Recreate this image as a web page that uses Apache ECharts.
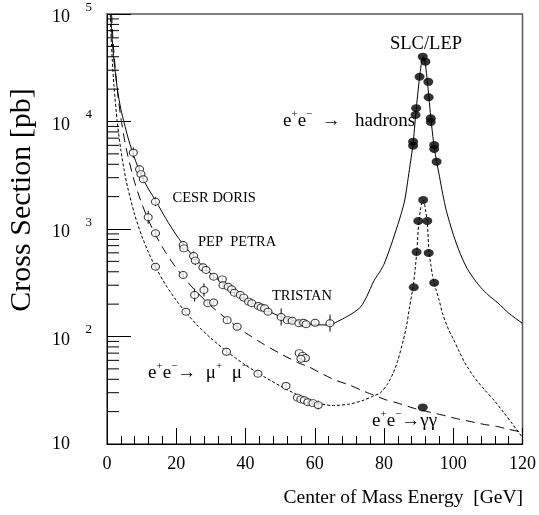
<!DOCTYPE html>
<html><head><meta charset="utf-8">
<script src="https://cdn.jsdelivr.net/npm/echarts@6/dist/echarts.min.js"></script>
<style>html,body{margin:0;padding:0;background:#fff}#c{width:539px;height:515px}</style>
</head><body><div id="c"></div>
<script>
// ---- theory curves ----
const hadCurveE = [1.05,1.5,2,3,4,5,6,7.4,8.5,10,12,14.2,17,20,22,25.3,28.2,31,35.6,40.4,46,50.7,56.4,60,63.8,66,68.6,71,73.3,75,77.1,79,80,82,84,85,86,87,87.7,88.4,89.2,90.27,90.7,91.2,91.5,92,92.5,93,93.5,94,94.5,95.2,96,97,98,100,102,104,106.2,108,110,112.9,116,119.9,120];
const hadCurveS = [100000,58000,37300,20000,13000,9600,7200,5150,4100,3100,2350,1800,1250,880,720,540,433,360,282,219,177,150,134,129,128,135,149,165,189,235,330,410,470,700,1100,1400,1860,3000,4300,6200,12000,26000,33000,40000,39500,33000,24000,16500,11000,7800,5800,4230,3100,2090,1480,890,590,430,336,285,245,205,165,133,132];

const mmCurveE = [0.93,1.2,1.5,2,3,4,5,6,8,10,12,14,17,20,22.8,26,30,35,40,45,50,55,60,65,70,74,77,79,81,82.7,84,85.6,86.5,87.4,88.4,89,89.5,90,90.5,91,91.3,91.7,92,92.5,93,93.5,94,94.5,95,95.9,97,98.7,100,101.5,103.4,106,109.1,112,114.7,117,119.9,120];
const mmCurveS = [100000,60000,38600,21700,9640,5425,3470,2410,1356,868,603,443,300,217,167,128,96.4,70.9,54.2,42.9,34.7,28.7,24.5,22.8,23.5,25.5,28,30,36,46,60,93,125,189,290,420,640,1100,1500,1800,1860,1700,1500,1150,620,470,370,316,275,219,160,115,95,75,56.6,42,31.8,25,19.4,15.5,11.6,11.5];

const ggCurveE = [1.32,1.6,2,3,4,5,6,8,10,12,14,17,20,25,30,35,40,45,50,55,58.2,62,65.8,70,73.3,77,80.8,84,88.4,92,96.8,101,105.3,109,112.9,116,119.4,120];
const ggCurveS = [100000,68000,43400,19300,10850,6940,4820,2710,1736,1205,886,600,434,278,193,142,108.5,85.7,69.4,57.4,52.4,45.2,39.4,35.4,31.8,28.5,25.6,24,21.6,20.2,18.6,17.2,16.1,15.2,14.5,13.7,13.0,12.9];

// ---- measurements ----
const hadE = [7.6,9.4,9.8,10.5,14.0,22.0,22.2,25.0,25.5,27.7,28.6,30.8,33.3,33.5,35.0,36.0,36.8,38.5,39.5,40.9,41.8,43.7,44.5,45.5,46.5,50.3,52.1,53.5,55.4,56.8,57.5,60.1,64.4];
const hadS = [5130,3590,3240,2900,1795,710,660,560,508,440,415,360,340,300,290,275,255,243,230,211,204,192,186,183,170,152,142,140,133,134,130,134,133];
const hadErr = [0.12,0.08,0.06,0.06,0.1,0.08,0.06,0.1,0.1,0.08,0.06,0.06,0.06,0.06,0.05,0.05,0.05,0.05,0.05,0.05,0.05,0.05,0.05,0.05,0.05,0.2,0.05,0.05,0.05,0.05,0.05,0.05,0.2];

const mmE = [14.0,22.8,34.5,43.6,51.7,55.0,56.0,57.0,58.0,59.5,61.0];
const mmS = [446,170,72,45,34.7,27,26,25.5,24.5,24,23];
const mmErr = [0.05,0.05,0.05,0.05,0.05,0.06,0.06,0.06,0.06,0.06,0.1];

const ggE = [11.9,14.0,22.0,25.3,28.0,29.1,30.8,34.7,37.6,55.5,56.5,57.3,56.0];
const ggS = [1285,912,373,243,271,204,207,142,123,70,66,63,62];
const ggErr = [0.15,0.05,0.05,0.15,0.15,0.05,0.05,0.08,0.05,0.05,0.05,0.05,0.05];

const zHadE = [91.2,91.96,90.27,92.8,92.9,89.3,89.1,93.5,93.5,88.4,88.4,94.5,94.5,95.2];
const zHadS = [40100,36000,26100,23400,16800,13300,11500,10700,9900,6490,5960,6040,5550,4230];
const zMmE = [88.6,89.4,89.9,91.3,92.5,92.9,94.5];
const zMmS = [287,611,1186,1862,1186,598,316];
const zGgE = [91.2];
const zGgS = [21.9];

const xTicks = [0,20,40,60,80,100,120];
const yMinorTicks = [20,30,40,50,60,70,80,90,200,300,400,500,600,700,800,900,2000,3000,4000,5000,6000,7000,8000,9000,20000,30000,40000,50000,60000,70000,80000,90000];

const FONT = 'Liberation Serif';
const zip = (a,b)=>a.map((v,i)=>[v,b[i]]);
const errData = (E,S,F)=>E.map((e,i)=>[e,S[i]/(1+F[i]),S[i]*(1+F[i])]);

const chart = echarts.init(document.getElementById('c'));
const lineBase = {type:'line', showSymbol:false, symbol:'none', smooth:0.25, silent:true, z:2};
const openPt = {type:'scatter', symbol:'circle', symbolSize:[8,7], itemStyle:{color:'#fff',borderColor:'#000',borderWidth:1}, z:4, silent:true};
const filledPt = {type:'scatter', symbol:'circle', symbolSize:[10,8], itemStyle:{color:'#000'}, z:4, silent:true};
const errSeries = (data)=>({type:'custom', z:3, silent:true, renderItem:(p,api)=>{
  const a=api.coord([api.value(0),api.value(1)]), b=api.coord([api.value(0),api.value(2)]);
  return {type:'line', shape:{x1:a[0],y1:a[1],x2:b[0],y2:b[1]}, style:{stroke:'#000',lineWidth:1}};
}, data});

const rich = {
  n:{fontFamily:FONT,fontSize:19,lineHeight:22,verticalAlign:'bottom',color:'#000'},
  s:{fontFamily:FONT,fontSize:11,lineHeight:11,padding:[0,0,11,0],verticalAlign:'top',color:'#000'}
};
const txt = (x,y,text,size,align)=>({type:'text', x, y, style:{text, fontFamily:FONT, fontSize:size, fill:'#000', align:align||'left', verticalAlign:'middle'}});
const rtxt = (x,y,text)=>({type:'text', x, y, style:{text, rich, align:'left', verticalAlign:'middle'}});

chart.setOption({
  animation:false,
  backgroundColor:'#fff',
  grid:{left:107, top:14, right:7, bottom:71, show:true, borderColor:'#555', borderWidth:1.5, backgroundColor:'transparent'},
  xAxis:{type:'value', min:0, max:120, interval:20,
    axisLine:{lineStyle:{color:'#000',width:1}},
    axisTick:{inside:true,length:16,lineStyle:{color:'#000'}},
    minorTick:{show:true,splitNumber:5,length:8,lineStyle:{color:'#000'}},
    splitLine:{show:false},
    axisLabel:{color:'#000',fontFamily:FONT,fontSize:18,margin:11}},
  yAxis:{type:'log', logBase:10, min:10, max:100000,
    axisLine:{lineStyle:{color:'#000',width:1}},
    axisTick:{inside:true,length:24,lineStyle:{color:'#000'}},
    splitLine:{show:false},
    axisLabel:{margin:15, formatter:(v)=>{const e=Math.round(Math.log10(v)); return e===1?'{b|10}{g| }':'{e|'+e+'}\n{b|10}{g| }';},
      rich:{b:{fontFamily:FONT,fontSize:18,lineHeight:13,color:'#000'},
            g:{fontFamily:FONT,fontSize:13,lineHeight:13,width:22},
            e:{fontFamily:FONT,fontSize:13,lineHeight:7,color:'#000'}}}},
  graphic:[
    {type:'text', x:22, y:200, rotation:Math.PI/2, style:{text:'Cross Section [pb]', fontFamily:FONT, fontSize:30, fill:'#000', align:'center', verticalAlign:'middle'}},
    txt(426,44,'SLC/LEP',18.5,'center'),
    rtxt(283,120,'{n|e}{s|+}{n|e}{s|\u2212}{n|  \u2192   hadrons}'),
    txt(172.5,198,'CESR DORIS',14.5),
    txt(198,242,'PEP  PETRA',14.5),
    txt(272,296,'TRISTAN',14.5),
    rtxt(148,372,'{n|e}{s|+}{n|e}{s|\u2212}{n|\u2192  \u03bc}{s|+}{n|  \u03bc}{s|\u2212}'),
    rtxt(372,420,'{n|e}{s|+}{n|e}{s|\u2212}{n|\u2192\u03b3\u03b3}'),
    txt(523,498,'Center of Mass Energy  [GeV]',19.5,'right')
  ],
  series:[
    Object.assign({}, lineBase, {data:zip(hadCurveE,hadCurveS), lineStyle:{color:'#000',width:1}}),
    Object.assign({}, lineBase, {data:zip(mmCurveE,mmCurveS), lineStyle:{color:'#000',width:1,type:[3,2]}}),
    Object.assign({}, lineBase, {data:zip(ggCurveE,ggCurveS), lineStyle:{color:'#000',width:1,type:[9,6]}}),
    errSeries(errData(hadE,hadS,hadErr)),
    errSeries(errData(mmE,mmS,mmErr)),
    errSeries(errData(ggE,ggS,ggErr)),
    Object.assign({}, openPt, {data:zip(hadE,hadS)}),
    Object.assign({}, openPt, {data:zip(mmE,mmS)}),
    Object.assign({}, openPt, {data:zip(ggE,ggS)}),
    Object.assign({}, filledPt, {data:zip(zHadE,zHadS)}),
    Object.assign({}, filledPt, {data:zip(zMmE,zMmS)}),
    Object.assign({}, filledPt, {data:zip(zGgE,zGgS)}),
    {type:'custom', silent:true, z:5, data:yMinorTicks.map(v=>[0,v]), renderItem:(p,api)=>{
      const a=api.coord([0,api.value(1)]);
      return {type:'line', shape:{x1:a[0],y1:a[1],x2:a[0]+12,y2:a[1]}, style:{stroke:'#000',lineWidth:1}};
    }}
  ]
});
</script></body></html>
